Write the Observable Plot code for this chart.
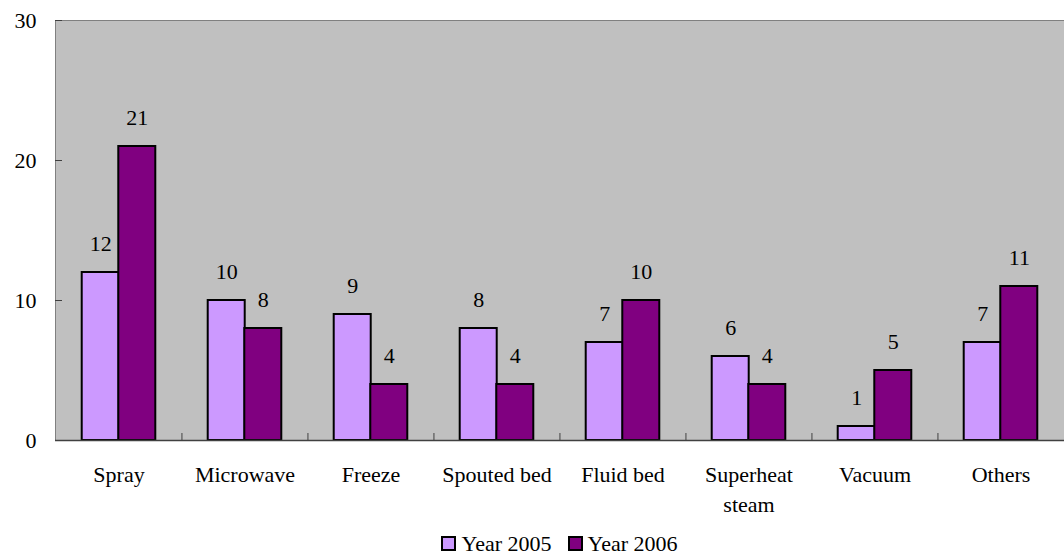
<!DOCTYPE html>
<html>
<head>
<meta charset="utf-8">
<script src="https://cdn.jsdelivr.net/npm/d3@7"></script>
<script src="https://cdn.jsdelivr.net/npm/@observablehq/plot@0.6"></script>
<style>
  body { margin: 0; background: #fff; font-family: "Liberation Serif", "Times New Roman", serif; }
  #chart { width: 1064px; }
  .legend { display: flex; justify-content: center; align-items: center; margin-left: 55px; font-size: 22px; color: #000; height: 27px; margin-top: 0px; line-height: 1; }
  .legend span.sw { display: inline-block; width: 11px; height: 11px; border: 2px solid #000; margin-right: 5px; }
  .legend .item { display: flex; align-items: center; margin: 0 8px; }
</style>
</head>
<body>
<div id="chart"></div>
<script>
const categories = ["Spray", "Microwave", "Freeze", "Spouted bed", "Fluid bed", "Superheat steam", "Vacuum", "Others"];
const year2005 = [12, 10, 9, 8, 7, 6, 1, 7];
const year2006 = [21, 8, 4, 4, 10, 4, 5, 11];
const seriesNames = ["Year 2005", "Year 2006"];
const seriesColors = ["#CC99FF", "#800080"];
const yTicks = [0, 10, 20, 30];

const d05 = categories.map((c, i) => ({cat: c, v: year2005[i]}));
const d06 = categories.map((c, i) => ({cat: c, v: year2006[i]}));

const width = 1064, marginLeft = 55, marginRight = 0;
const step = (width - marginLeft - marginRight) / categories.length;
const barW = step * 0.29;
const half = barW / 2;
const pad = 1 - barW / step;

const font = '"Liberation Serif", "Times New Roman", serif';

const plot = Plot.plot({
  width, height: 530,
  marginLeft, marginRight, marginTop: 20, marginBottom: 90,
  style: {fontFamily: font, fontSize: "22px", color: "#000", background: "#fff"},
  x: {domain: categories, paddingInner: pad, paddingOuter: pad / 2, align: 0.5, label: null},
  y: {domain: [0, 30], label: null},
  marks: [
    Plot.frame({fill: "#C0C0C0", stroke: "#808080"}),
    Plot.ruleX(categories.slice(1), {y1: 0, y2: 0.5, dx: -step / 2, stroke: "#404040", strokeWidth: 1}),
    Plot.barY(d05, {x: "cat", y: "v", dx: -half, fill: seriesColors[0], stroke: "#000", strokeWidth: 2}),
    Plot.barY(d06, {x: "cat", y: "v", dx: half, fill: seriesColors[1], stroke: "#000", strokeWidth: 2}),
    Plot.text(d05, {x: "cat", y: "v", text: d => String(d.v), dx: -half, dy: -29, lineAnchor: "middle", fontSize: 22, fill: "#000"}),
    Plot.text(d06, {x: "cat", y: "v", text: d => String(d.v), dx: half, dy: -29, lineAnchor: "middle", fontSize: 22, fill: "#000"}),
    Plot.axisY({ticks: yTicks, tickSize: -7, tickPadding: 26, fontSize: 22, stroke: "#404040", label: null}),
    Plot.ruleY([0], {stroke: "#404040", strokeWidth: 1.5}),
    Plot.ruleX([0], {frameAnchor: "left", stroke: "#404040", strokeWidth: 1.5}),
    Plot.axisX({tickSize: 0, tickPadding: 20, fontSize: 22, lineHeight: 1.36,
      tickFormat: d => d === "Superheat steam" ? "Superheat\nsteam" : d, label: null})
  ]
});
document.getElementById("chart").appendChild(plot);

const legend = document.createElement("div");
legend.className = "legend";
seriesNames.forEach((n, i) => {
  const it = document.createElement("div");
  it.className = "item";
  const sw = document.createElement("span");
  sw.className = "sw";
  sw.style.background = seriesColors[i];
  it.appendChild(sw);
  it.appendChild(document.createTextNode(n));
  legend.appendChild(it);
});
document.getElementById("chart").appendChild(legend);
</script>
</body>
</html>
